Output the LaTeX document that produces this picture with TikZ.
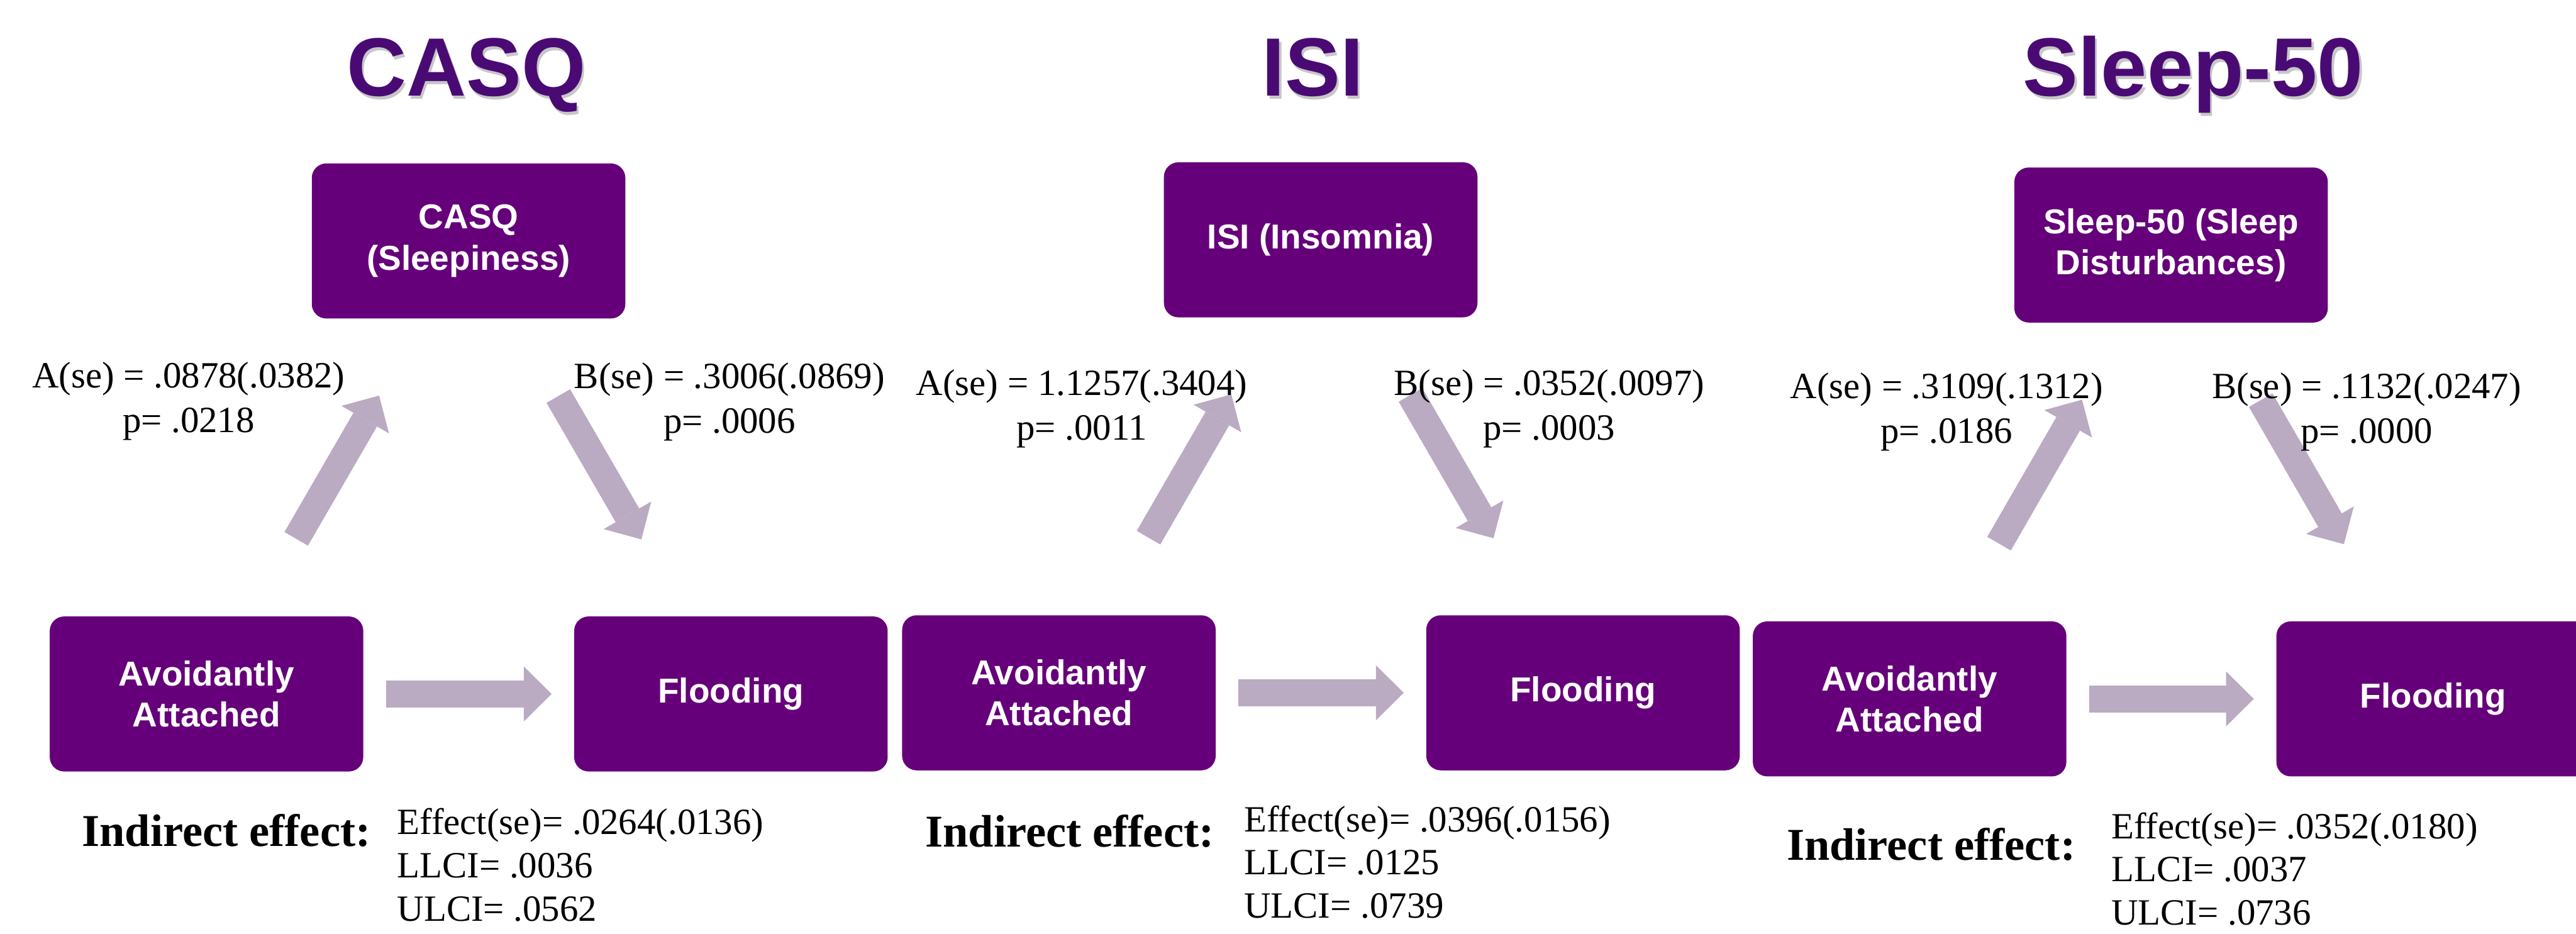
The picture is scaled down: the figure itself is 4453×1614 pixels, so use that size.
\documentclass[tikz,border=0pt]{standalone}
\usepackage{fontspec}
\setmainfont{Liberation Serif}
\newfontfamily\arialfont{Liberation Sans}
\usetikzlibrary{arrows.meta}
\definecolor{boxpurple}{RGB}{102,0,122}
\definecolor{titlepurple}{RGB}{74,10,116}
\definecolor{arrowlilac}{RGB}{186,170,194}

\begin{document}
\begin{tikzpicture}[x=0.1mm, y=-0.1mm,
      varbox/.style = {shape=rectangle, rounded corners=2.5mm, fill=boxpurple,
        text=white, align=center, minimum width=54.2mm, minimum height=26.8mm,
        inner sep=0pt, outer sep=0pt,
        font=\arialfont\bfseries\fontsize{17}{20.2}\selectfont},
      title/.style = {anchor=base, inner sep=0pt, text=titlepurple,
        font=\arialfont\bfseries\fontsize{40.7}{48}\selectfont},
      titleshade/.style = {title, text=black!22},
      coef/.style = {anchor=base, inner sep=0pt, align=center,
        font=\fontsize{18.2}{21.9}\selectfont},
      effect/.style = {anchor=base west, inner sep=0pt, align=left,
        font=\fontsize{18.2}{21.3}\selectfont},
      indirect/.style = {anchor=base west, inner sep=0pt,
        font=\bfseries\fontsize{22.4}{26}\selectfont},
      flow/.style = {draw=arrowlilac, line width=4.7mm,
        -{Triangle[length=4.8mm, width=9.5mm, line width=0pt, color=arrowlilac]}},
      rise/.style = {flow, shorten <=15.5mm, shorten >=15.4mm},
      direct/.style = {flow, shorten <=3.9mm, shorten >=3.9mm}]
  \useasboundingbox (0,0) rectangle (4453,1614);
  \node[titleshade] (casqshade) at (810,171) {CASQ};
  \node[title] (casqtitle) at (806,166) {CASQ};
  \node[titleshade] (isishade) at (2273,171) {ISI};
  \node[title] (isititle) at (2269,166) {ISI};
  \node[titleshade] (sleepshade) at (3795,171) {Sleep-50};
  \node[title] (sleeptitle) at (3791,166) {Sleep-50};

  \node[varbox] (casq) at (810,416.5) {CASQ\\(Sleepiness)};
  \node[varbox] (avoid1) at (357,1199.5) {Avoidantly\\Attached};
  \node[varbox] (flood1) at (1263.5,1199.5) {Flooding};
  \node[varbox] (isi) at (2283,414.5) {ISI (Insomnia)};
  \node[varbox] (avoid2) at (1830.5,1197.5) {Avoidantly\\Attached};
  \node[varbox] (flood2) at (2736.5,1197.5) {Flooding};
  \node[varbox] (sleep) at (3753,423.5) {Sleep-50 (Sleep\\Disturbances)};
  \node[varbox] (avoid3) at (3301,1208) {Avoidantly\\Attached};
  \node[varbox] (flood3) at (4206,1208) {Flooding};

  \draw[rise] (avoid1) -- (casq);
  \draw[rise] (casq) -- (flood1);
  \draw[direct] (avoid1) -- (flood1);
  \draw[rise] (avoid2) -- (isi);
  \draw[rise] (isi) -- (flood2);
  \draw[direct] (avoid2) -- (flood2);
  \draw[rise] (avoid3) -- (sleep);
  \draw[rise] (sleep) -- (flood3);
  \draw[direct] (avoid3) -- (flood3);

  \node[coef] (acasq) at (326,747) {A(se) = .0878(.0382)\\p= .0218};
  \node[coef] (bcasq) at (1261,748) {B(se) = .3006(.0869)\\p= .0006};
  \node[coef] (aisi) at (1870,760) {A(se) = 1.1257(.3404)\\p= .0011};
  \node[coef] (bisi) at (2678,760) {B(se) = .0352(.0097)\\p= .0003};
  \node[coef] (asleep) at (3365,766) {A(se) = .3109(.1312)\\p= .0186};
  \node[coef] (bsleep) at (4091,766) {B(se) = .1132(.0247)\\p= .0000};

  \node[indirect] (indcasq) at (141,1463) {Indirect effect:};
  \node[indirect] (indisi) at (1599,1464) {Indirect effect:};
  \node[indirect] (indsleep) at (3088,1487) {Indirect effect:};
  \node[effect] (effcasq) at (686,1592) {Effect(se)= .0264(.0136)\\LLCI= .0036\\ULCI= .0562};
  \node[effect] (effisi) at (2150,1587) {Effect(se)= .0396(.0156)\\LLCI= .0125\\ULCI= .0739};
  \node[effect] (effsleep) at (3649,1599) {Effect(se)= .0352(.0180)\\LLCI= .0037\\ULCI= .0736};
\end{tikzpicture}
\end{document}
